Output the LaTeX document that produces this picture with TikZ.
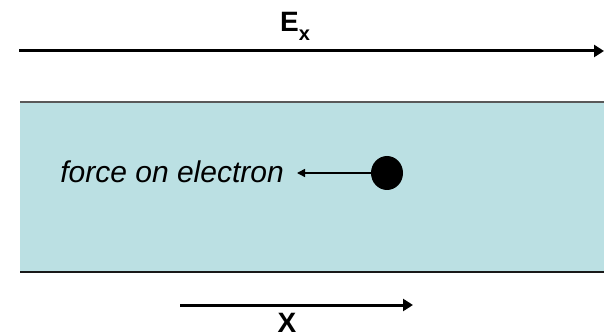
\documentclass[tikz,border=0pt]{standalone}
\usepackage{fontspec}
\setmainfont{Liberation Sans}
\usetikzlibrary{arrows.meta,shapes.geometric}
\definecolor{slab}{HTML}{BBE0E3}
\begin{document}
\begin{tikzpicture}[x=1pt,y=-1pt,
  bigarrow/.style={line width=3pt,-{Triangle[length=10pt,width=12pt]}},
  smallarrow/.style={line width=1.5pt,-{Triangle[length=8pt,width=8pt]}},
  lbl/.style={font=\fontsize{28}{30}\selectfont\bfseries, inner sep=0pt}]
\useasboundingbox (0,0) rectangle (604,336);
% slab
\fill[slab] (20,102) rectangle (604,272);
\draw[line width=1.5pt, black!65] (20,102) -- (604,102);
\draw[line width=1.5pt, black!90] (20,272) -- (604,272);
% field arrow
\coordinate (ea) at (19,51);
\coordinate (eb) at (604,51);
\draw[bigarrow] (ea) -- (eb);
\node[lbl, anchor=base west] (ex) at (280,32) {E\raisebox{-0.3em}{\fontsize{20}{20}\selectfont x}};
% electron
\node[ellipse, fill=black, minimum width=32pt, minimum height=34pt, inner sep=0pt] (el) at (387,173) {};
\node[anchor=base east, inner sep=0pt, font=\itshape\fontsize{30}{32}\selectfont] (txt) at (284,183) {force on electron};
\coordinate (tip) at (297,173);
\draw[smallarrow] (el) -- (tip);
% x arrow
\coordinate (xa) at (180,305);
\coordinate (xb) at (413,305);
\draw[bigarrow] (xa) -- (xb);
\node[lbl, anchor=base] (xl) at (287,332) {X};
\end{tikzpicture}
\end{document}
